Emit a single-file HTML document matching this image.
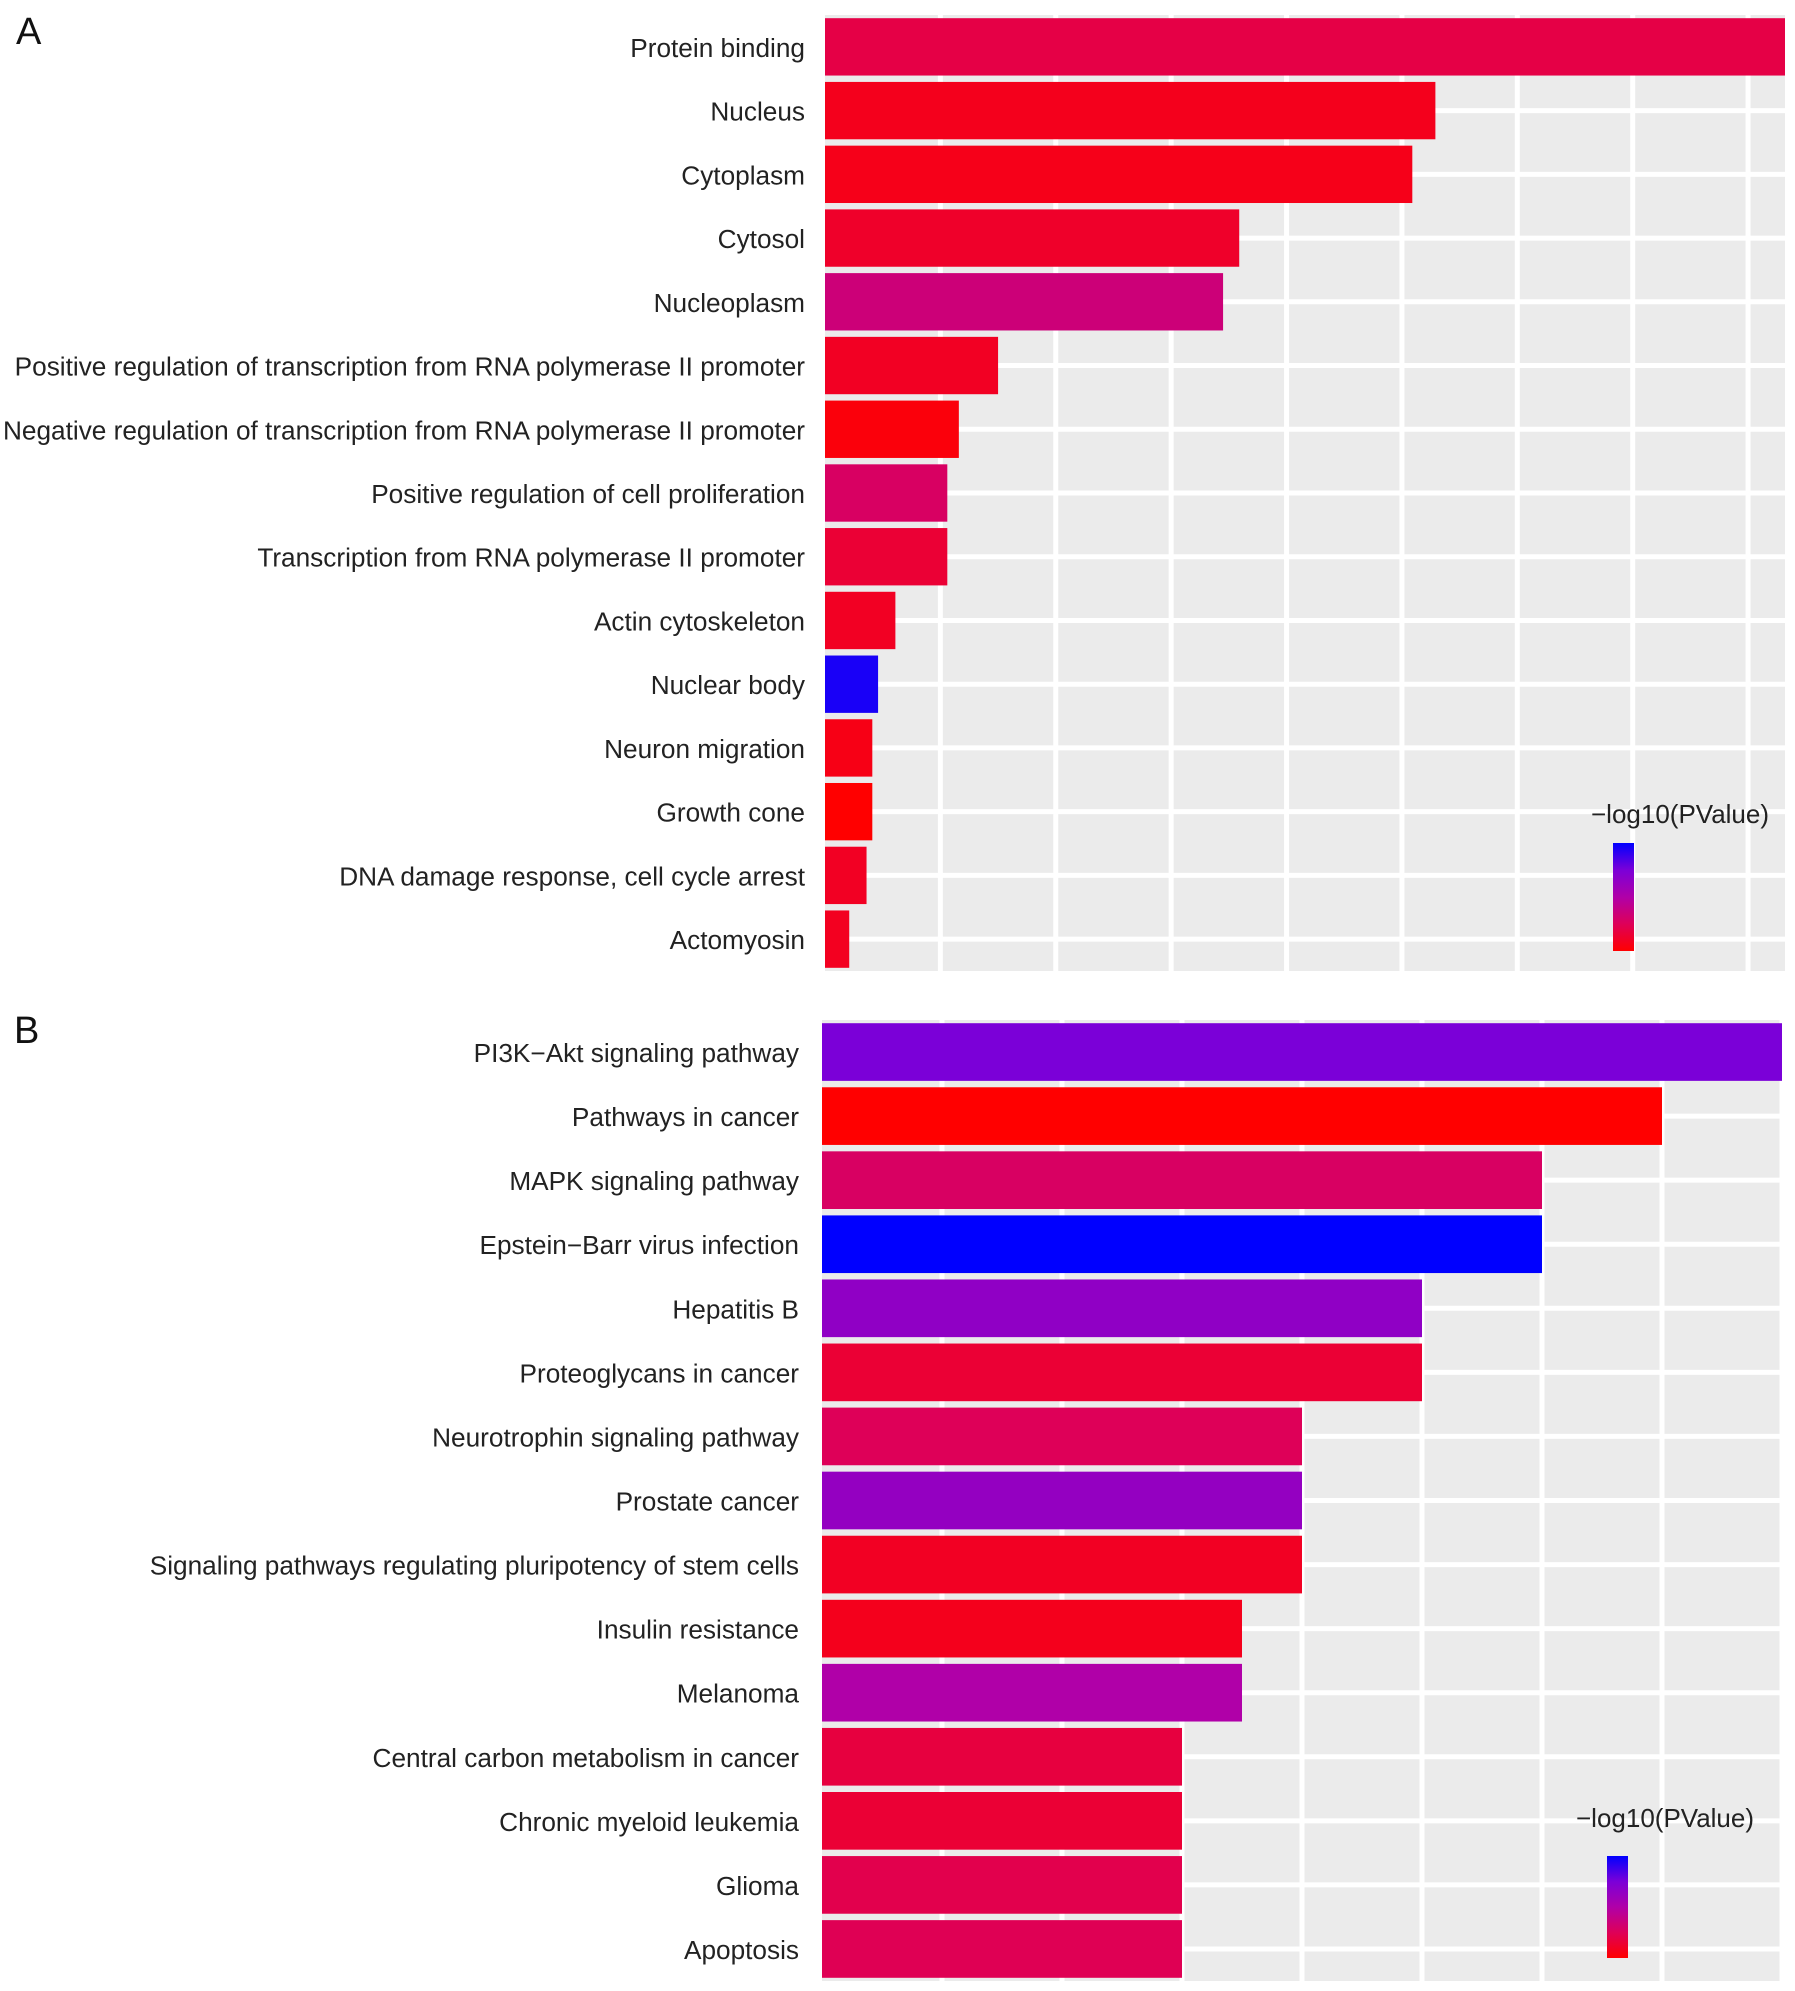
<!DOCTYPE html>
<html><head><meta charset="utf-8"><style>
html,body{margin:0;padding:0;background:#fff;}
svg{display:block;font-family:"Liberation Sans",Arial,sans-serif;}
</style></head><body>
<svg id="chart" width="1795" height="1991" viewBox="0 0 1795 1991"></svg>
<script>
const NS="http://www.w3.org/2000/svg";
// Panel A data
const catsA=["Protein binding","Nucleus","Cytoplasm","Cytosol","Nucleoplasm","Positive regulation of transcription from RNA polymerase II promoter","Negative regulation of transcription from RNA polymerase II promoter","Positive regulation of cell proliferation","Transcription from RNA polymerase II promoter","Actin cytoskeleton","Nuclear body","Neuron migration","Growth cone","DNA damage response, cell cycle arrest","Actomyosin"];
const countsA=[83.2,52.9,50.9,35.9,34.5,15,11.6,10.6,10.6,6.1,4.6,4.1,4.1,3.6,2.1];
const pA=[0.2,0.08,0.07,0.12,0.35,0.1,0.03,0.28,0.15,0.1,0.95,0.06,0.0,0.1,0.09];
const ticksA=[10,20,30,40,50,60,70,80];
// Panel B data
const catsB=["PI3K\u2212Akt signaling pathway","Pathways in cancer","MAPK signaling pathway","Epstein\u2212Barr virus infection","Hepatitis B","Proteoglycans in cancer","Neurotrophin signaling pathway","Prostate cancer","Signaling pathways regulating pluripotency of stem cells","Insulin resistance","Melanoma","Central carbon metabolism in cancer","Chronic myeloid leukemia","Glioma","Apoptosis"];
const countsB=[16,14,12,12,10,10,8,8,8,7,7,6,6,6,6];
const pB=[0.75,0.0,0.28,1.0,0.65,0.15,0.25,0.63,0.1,0.08,0.5,0.18,0.15,0.22,0.24];
const ticksB=[2,4,6,8,10,12,14,16];

const svg=document.getElementById('chart');
function el(tag,attrs,parent){const e=document.createElementNS(NS,tag);for(const k in attrs)e.setAttribute(k,attrs[k]);(parent||svg).appendChild(e);return e;}
const stops=[[0,[255,0,0]],[0.25,[222,0,88]],[0.5,[176,0,168]],[0.75,[123,0,216]],[1,[0,0,255]]];
function colorOf(t){for(let i=1;i<stops.length;i++){if(t<=stops[i][0]){const a=stops[i-1],b=stops[i];const f=(t-a[0])/(b[0]-a[0]);const c=a[1].map((v,j)=>Math.round(v+(b[1][j]-v)*f));return `rgb(${c[0]},${c[1]},${c[2]})`;}}return 'rgb(0,0,255)';}

function panel(cfg){
  const {id,cats,vals,ps,ticks,xmax,x0,x1,y0,y1,labelX,letter,lx,ly,leg}=cfg;
  const g=el('g',{});  
  const xs=v=>x0+(x1-x0)*v/xmax;
  const band=(y1-y0)/cats.length;
  const yc=i=>y0+band*(i+0.5);
  const bg=el('rect',{x:x0,y:y0,width:x1-x0,height:y1-y0,fill:'#EBEBEB'},g);
  
  ticks.forEach(t=>{const l=el('line',{x1:xs(t),x2:xs(t),y1:y0,y2:y1,stroke:'#fff','stroke-width':5},g);
    });
  cats.forEach((c,i)=>{const l=el('line',{x1:x0,x2:x1,y1:yc(i),y2:yc(i),stroke:'#fff','stroke-width':5},g);
    });
  cats.forEach((c,i)=>{
    const r=el('rect',{x:x0,y:yc(i)-band*0.45,width:xs(vals[i])-x0,height:band*0.9,fill:colorOf(ps[i])},g);
    
    const t=el('text',{x:labelX,y:yc(i)+10,'text-anchor':'end','font-size':26.2,fill:'#222'},g);
    t.textContent=c;
    
  });
  const L=el('text',{x:lx,y:ly,'font-size':38,fill:'#111'},g);L.textContent=letter;
  
  const lg=el('g',{},g);
  const gid=id+'grad';
  const defs=el('defs',{},lg);const lgd=el('linearGradient',{id:gid,x1:0,y1:0,x2:0,y2:1},defs);
  [[0,1],[0.25,0.75],[0.5,0.5],[0.75,0.25],[1,0]].forEach(s=>el('stop',{offset:s[0],'stop-color':colorOf(s[1])},lgd));
  const lt=el('text',{x:leg.tx,y:leg.ty,'text-anchor':'middle','font-size':26,fill:'#222'},lg);
  lt.textContent='\u2212log10(PValue)';
  
  const cb=el('rect',{x:leg.bx,y:leg.by,width:21,height:leg.bh,fill:`url(#${gid})`},lg);
  
}
panel({id:'a',cats:catsA,vals:countsA,ps:pA,ticks:ticksA,xmax:83.2,x0:825,x1:1785,y0:15,y1:971,labelX:805,letter:'A',lx:16,ly:44,
  leg:{tx:1680,ty:823,bx:1613,by:843,bh:108}});
panel({id:'b',cats:catsB,vals:countsB,ps:pB,ticks:ticksB,xmax:16,x0:822,x1:1782,y0:1020,y1:1981,labelX:799,letter:'B',lx:14,ly:1043,
  leg:{tx:1665,ty:1827,bx:1607,by:1856,bh:102}});
</script>
</body></html>
